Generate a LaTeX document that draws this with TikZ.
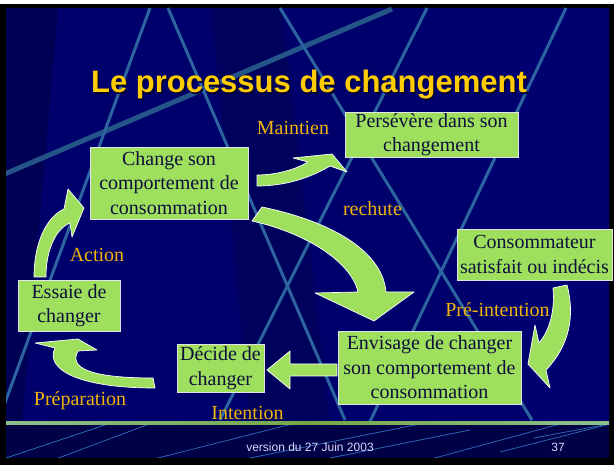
\documentclass[tikz,border=0pt]{standalone}
\usepackage{fontspec}
\setmainfont{Liberation Serif}
\newfontfamily\arialf{Liberation Sans}
\definecolor{navy}{RGB}{0,0,108}
\definecolor{navydark}{RGB}{0,0,84}
\definecolor{footbg}{RGB}{0,0,70}
\definecolor{lineblue}{RGB}{44,100,160}
\definecolor{footline}{RGB}{45,100,175}
\definecolor{lgreen}{RGB}{158,224,94}
\definecolor{ink}{RGB}{14,14,60}
\definecolor{gold}{RGB}{240,180,10}
\definecolor{titleyellow}{RGB}{255,204,0}
\definecolor{boxline}{RGB}{225,225,230}
\begin{document}
\begin{tikzpicture}[x=1pt,y=-1pt,
  box/.style={draw=boxline, line width=0.8pt, fill=lgreen, text=ink, align=center,
    inner sep=0pt, font=\fontsize{20}{24.5}\selectfont},
  lbl/.style={text=gold, font=\fontsize{20}{24}\selectfont, inner sep=0pt, anchor=base},
  arr/.style={fill=lgreen, draw=white, line width=0.7pt, line join=round},
  bgline/.style={draw=lineblue, line width=3pt},
  ftline/.style={draw=footline, line width=0.8pt}]
\useasboundingbox (0,0) rectangle (614,465);
% frame
\fill[black] (0,0) rectangle (614,465);
\fill[white] (0,0) rectangle (614,4);
% slide background
\fill[navy] (6,8) rectangle (609,423);
\fill[navydark] (6,8) -- (58,8) -- (22,423) -- (6,423) -- cycle;
\fill[navydark, opacity=0.6] (211,8) -- (282,8) -- (330,423) -- (250,423) -- cycle;
\fill[navy!85!blue, opacity=0.25] (430,8) -- (609,8) -- (609,423) -- (520,423) -- cycle;
\begin{scope}
  \clip (6,8) rectangle (609,423);
  \draw[bgline, line width=5pt, draw=lineblue!85!black] (392,9) -- (0,176);
  \draw[bgline] (150,8) -- (-5,430);
  \draw[bgline] (168,8) -- (345,420);
  \draw[bgline] (280,8) -- (532,420);
  \draw[bgline] (427,8) -- (220,420);
  \draw[bgline] (566,8) -- (366,430);
\end{scope}
% footer
\fill[footbg] (6,424) rectangle (609,458);
\begin{scope}
  \clip (6,424) rectangle (609,458);
  \draw[ftline] (0,460) -- (120,420);
  \draw[ftline] (53,460) -- (160,420);
  \draw[ftline] (150,460) -- (300,422);
  \draw[ftline] (230,462) -- (420,424);
  \draw[ftline] (330,458) -- (470,430);
  \draw[ftline] (420,462) -- (560,424);
  \draw[ftline] (500,452) -- (614,423);
  \draw[ftline] (534,438) -- (614,423);
\end{scope}
\shade[left color=black!55!green!45, right color=black!55!green!45, middle color=lgreen!75!black]
  (6,422) rectangle (609,424.5);
\node[font=\arialf\fontsize{12}{12}\selectfont, text=white!85!blue, anchor=base, inner sep=0pt]
  (foot) at (310,452) {version du 27 Juin 2003};
\node[font=\arialf\fontsize{12}{12}\selectfont, text=white!85!blue, anchor=base, inner sep=0pt]
  (pagenum) at (558,452) {37};
% title
\node[font=\arialf\bfseries\fontsize{31}{31}\selectfont, text=black!80!blue, anchor=base, inner sep=0pt]
  (titleshadow) at (310.5,94.5) {Le processus de changement};
\node[font=\arialf\bfseries\fontsize{31}{31}\selectfont, text=titleyellow, anchor=base, inner sep=0pt]
  (title) at (309,93) {Le processus de changement};
% arrows
% Action
\filldraw[arr] (34,277) .. controls (34,245) and (45,218) .. (64,209) -- (68,189) -- (84,208)
  -- (72,237) -- (70,223) .. controls (57,228) and (46,248) .. (46,277) -- cycle;
% Maintien
\filldraw[arr] (257,175) .. controls (275,175) and (295,170) .. (308,162) -- (293,158) -- (332,154)
  -- (347,172) -- (330,166) .. controls (310,178) and (285,186) .. (257,186) -- cycle;
% rechute
\filldraw[arr] (262,207) .. controls (325,220) and (382,248) .. (386,292) -- (414,292) -- (374,321)
  -- (315,293) -- (358,292) .. controls (352,264) and (310,234) .. (252,221) -- cycle;
% Pre-intention
\filldraw[arr] (553,288) -- (567,285) .. controls (575,315) and (570,345) .. (546,370) -- (550,388)
  -- (528,364) -- (535,325) -- (539,343) .. controls (550,330) and (555,310) .. (553,288) -- cycle;
% Intention
\filldraw[arr] (337,364) -- (290,364) -- (290,351) -- (267,370) -- (290,389) -- (290,376)
  -- (337,376) -- cycle;
% Preparation
\filldraw[arr] (153,378) .. controls (105,378) and (66,372) .. (78,351) -- (97,350) -- (78,339)
  -- (35,343) -- (55,348) .. controls (45,368) and (75,388) .. (155,388) -- cycle;
% boxes
\node[box, minimum width=173, minimum height=45] (perse) at (431.5,134.5) {Persévère dans son\\changement};
\node[box, minimum width=158, minimum height=72] (change) at (169,183) {Change son\\comportement de\\consommation};
\node[box, minimum width=102, minimum height=51] (essaie) at (69,305.5) {Essaie de\\changer};
\node[box, minimum width=155, minimum height=51] (conso) at (534.5,254.5) {Consommateur\\satisfait ou indécis};
\node[box, minimum width=183, minimum height=73] (envisage) at (429.5,367.5) {Envisage de changer\\son comportement de\\consommation};
\node[box, minimum width=87, minimum height=48] (decide) at (220.5,368) {Décide de\\changer};
% labels
\node[lbl] (lmaint) at (293,135) {Maintien};
\node[lbl] (lrech) at (372.5,216) {rechute};
\node[lbl] (lact) at (97,262) {Action};
\node[lbl] (lpre) at (497.5,317) {Pré-intention};
\node[lbl] (lprep) at (80,405.5) {Préparation};
\node[lbl] (lint) at (247.5,420) {Intention};
\end{tikzpicture}
\end{document}
